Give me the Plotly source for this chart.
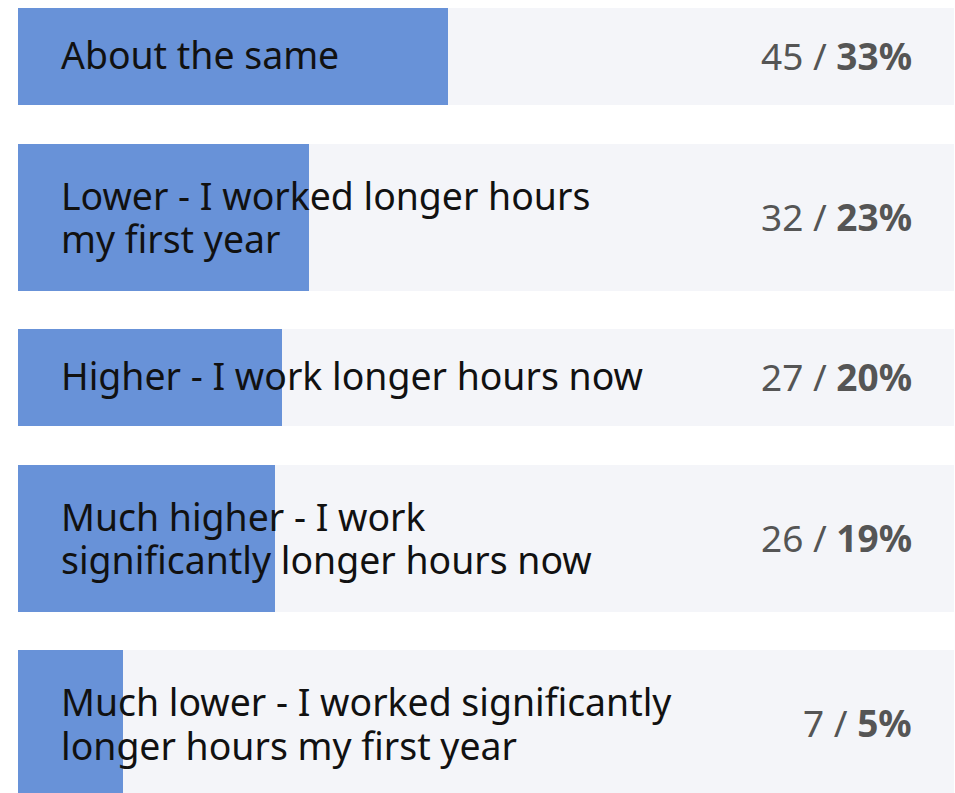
import plotly.graph_objects as go

# ---- data ----
labels = [
    "About the same",
    "Lower - I worked longer hours<br>my first year",
    "Higher - I work longer hours now",
    "Much higher - I work<br>significantly longer hours now",
    "Much lower - I worked significantly<br>longer hours my first year",
]
counts = [45, 32, 27, 26, 7]
percents = [33, 23, 20, 19, 5]
# drawn bar length, as % of the grey track
bar_length = [45.9, 31.1, 28.2, 27.5, 11.2]

# ---- layout constants ----
W, H = 955, 793
TOP, GAP, ROW1, EXTRA = 8, 38.5, 97, 50
LINE = 43.5          # line spacing of wrapped labels (px)
BLOCK_SHIFT = 2      # wrapped label block sits slightly low
FONT = "Noto Sans"
LABEL_SIZE = 37.4
VALUE_SIZE = 37
BLUE = "#6892D8"
TRACK = "#F4F5F9"

heights = [ROW1 + EXTRA * lab.count("<br>") for lab in labels]
centers = []
pos = TOP
for h in heights:
    centers.append(pos + h / 2)
    pos += h + GAP

n = len(labels)
fig = go.Figure()
fig.add_trace(go.Bar(
    y=centers, x=[100] * n, width=heights, orientation="h",
    marker=dict(color=TRACK, line=dict(width=0)), hoverinfo="skip", showlegend=False,
))
fig.add_trace(go.Bar(
    y=centers, x=bar_length, width=heights, orientation="h",
    marker=dict(color=BLUE, line=dict(width=0)), hoverinfo="skip", showlegend=False,
))

annotations = []
for lab, c, p, yc in zip(labels, counts, percents, centers):
    lines = lab.split("<br>")
    k = len(lines)
    for i, ln in enumerate(lines):
        off = (i - (k - 1) / 2) * LINE + (BLOCK_SHIFT if k > 1 else 0) - 2
        annotations.append(dict(
            x=0, y=yc + off, xref="x", yref="y", text=ln, showarrow=False,
            xanchor="left", yanchor="middle", align="left", xshift=41,
            font=dict(family=FONT, size=LABEL_SIZE, color="#111111"),
        ))
    annotations.append(dict(
        x=100, y=yc - 1, xref="x", yref="y", text=f"{c} / <b>{p}%</b>", showarrow=False,
        xanchor="right", yanchor="middle", align="right", xshift=-40,
        font=dict(family=FONT, size=VALUE_SIZE, color="#555555"),
    ))

fig.update_layout(
    width=W, height=H, barmode="overlay", bargap=0,
    margin=dict(l=18, r=1, t=0, b=0),
    paper_bgcolor="white", plot_bgcolor="white",
    xaxis=dict(range=[0, 100], visible=False, fixedrange=True),
    yaxis=dict(range=[H, 0], visible=False, fixedrange=True),
    annotations=annotations,
    showlegend=False,
)
fig.write_html("out.html", config={"displayModeBar": False})
